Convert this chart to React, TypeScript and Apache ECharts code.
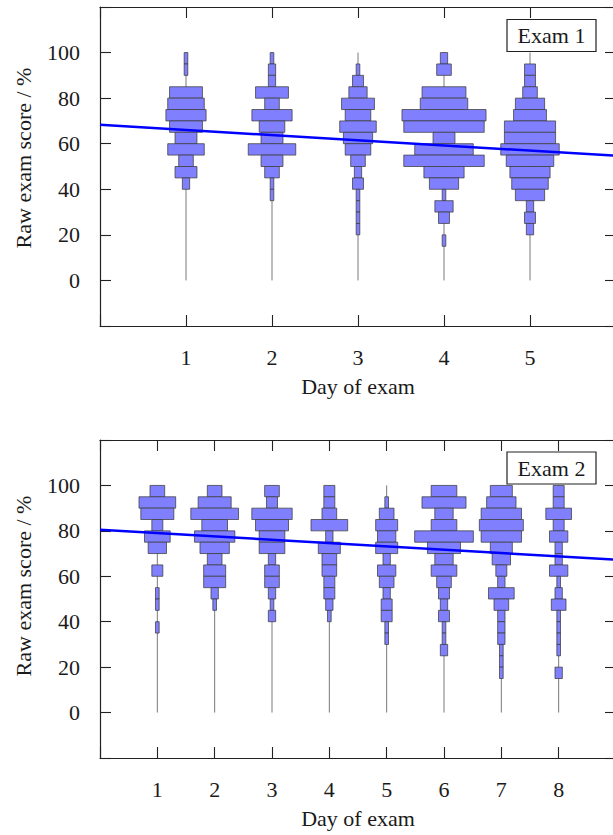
import React, { useEffect, useRef } from "react";
import * as echarts from "echarts";

// Histogram counts per day, bins of 5 % from 95–100 (index 0) downwards
const exam1Day1 = [1, 1, 0, 9, 10, 11, 9, 6, 10, 4, 6, 2];
const exam1Day2 = [1, 2, 2, 9, 4, 11, 7, 6, 13, 6, 4, 1, 1];
const exam1Day3 = [0, 1, 3, 5, 9, 7, 10, 8, 7, 4, 2, 3, 1, 1, 1, 1];
const exam1Day4 = [2, 4, 0, 12, 13, 23, 22, 6, 16, 22, 11, 8, 1, 5, 3, 0, 1];
const exam1Day5 = [0, 3, 3, 4, 8, 9, 14, 14, 16, 13, 11, 10, 8, 2, 3, 2];

const exam2Day1 = [4, 10, 9, 3, 7, 5, 0, 3, 0, 1, 1, 0, 1];
const exam2Day2 = [4, 9, 13, 7, 11, 8, 4, 6, 6, 2, 1];
const exam2Day3 = [4, 3, 11, 9, 7, 7, 2, 4, 4, 2, 1, 2];
const exam2Day4 = [3, 3, 4, 10, 2, 6, 4, 4, 3, 3, 2, 1];
const exam2Day5 = [0, 1, 4, 6, 5, 6, 2, 5, 4, 2, 3, 3, 1, 1];
const exam2Day6 = [7, 12, 5, 7, 16, 9, 5, 7, 4, 3, 2, 3, 1, 1, 2];
const exam2Day7 = [6, 8, 11, 12, 11, 6, 5, 3, 2, 7, 4, 2, 2, 2, 1, 1, 1];
const exam2Day8 = [3, 3, 7, 3, 5, 2, 2, 5, 1, 2, 4, 1, 1, 1, 1, 0, 2];

const exam1Hists = [exam1Day1, exam1Day2, exam1Day3, exam1Day4, exam1Day5];
const exam2Hists = [exam2Day1, exam2Day2, exam2Day3, exam2Day4, exam2Day5, exam2Day6, exam2Day7, exam2Day8];

// Linear fits (day, score)
const exam1Fit = [[0, 68.3], [6, 54.7]];
const exam2Fit = [[0, 80.5], [9, 67.3]];

const yTickValues = [0, 20, 40, 60, 80, 100];
const panelTitles = ["Exam 1", "Exam 2"];

const BIN_SIZE = 5;
const TOP_SCORE = 100;
const FONT = "'Liberation Serif', 'Times New Roman', serif";
const TEXT = "#1a1a1a";

function histData(hists: number[][]) {
  const out: number[][] = [];
  hists.forEach((h, d) => {
    h.forEach((c, i) => {
      if (c > 0) out.push([d + 1, TOP_SCORE - BIN_SIZE * i, c]);
    });
  });
  return out;
}

export default function App() {
  const ref = useRef<HTMLDivElement>(null);
  useEffect(() => {
    if (!ref.current) return;
    const chart = echarts.init(ref.current, null, { renderer: "svg" });

    const grids = [
      { left: 100, top: 7, width: 516, height: 319, outerBoundsMode: "none", containLabel: false },
      { left: 100, top: 440, width: 516, height: 318, outerBoundsMode: "none", containLabel: false },
    ];
    const xMax = [exam1Hists.length + 1, exam2Hists.length + 1];
    const countScale = [0.0425, 0.064];

    const axisLine = { show: true, onZero: false, lineStyle: { color: "#222", width: 1.2 } };
    const tick = { show: true, inside: true, length: 11, lineStyle: { color: "#222", width: 1.1 } };

    const xAxis: any[] = [];
    const yAxis: any[] = [];
    const series: any[] = [];

    [0, 1].forEach((p) => {
      const nDays = xMax[p] - 1;
      xAxis.push({
        type: "value", gridIndex: p, min: 0, max: xMax[p], interval: 1, position: "bottom",
        axisLine, axisTick: tick, splitLine: { show: false },
        axisLabel: {
          margin: 20, color: TEXT, fontFamily: FONT, fontSize: 22,
          formatter: (v: number) => (v >= 1 && v <= nDays ? String(v) : ""),
        },
        name: "Day of exam", nameLocation: "middle", nameGap: 49,
        nameTextStyle: { color: TEXT, fontFamily: FONT, fontSize: 22 },
      });
      xAxis.push({
        type: "value", gridIndex: p, min: 0, max: xMax[p], interval: 1, position: "top",
        axisLine, axisTick: tick, splitLine: { show: false }, axisLabel: { show: false },
      });
      yAxis.push({
        type: "value", gridIndex: p, min: -20, max: 120, interval: 20, position: "left",
        axisLine, axisTick: tick, splitLine: { show: false },
        axisLabel: {
          margin: 20, color: TEXT, fontFamily: FONT, fontSize: 22,
          formatter: (v: number) => (yTickValues.indexOf(v) >= 0 ? String(v) : ""),
        },
      });
      yAxis.push({
        type: "value", gridIndex: p, min: -20, max: 120, interval: 20, position: "right",
        axisLine, axisTick: tick, splitLine: { show: false }, axisLabel: { show: false },
      });

      const days = (p === 0 ? exam1Hists : exam2Hists).map((_, i) => [i + 1, 0, TOP_SCORE]);
      series.push({
        type: "custom", xAxisIndex: p * 2, yAxisIndex: p * 2, z: 2,
        data: days, encode: { x: 0, y: [1, 2] }, silent: true,
        renderItem: (_params: any, api: any) => {
          const d = api.value(0);
          const a = api.coord([d, api.value(1)]);
          const b = api.coord([d, api.value(2)]);
          return {
            type: "line",
            shape: { x1: a[0], y1: a[1], x2: b[0], y2: b[1] },
            style: { stroke: "#7a7a7a", lineWidth: 1 },
          };
        },
      });

      const scale = countScale[p];
      series.push({
        type: "custom", xAxisIndex: p * 2, yAxisIndex: p * 2, z: 3,
        data: histData(p === 0 ? exam1Hists : exam2Hists), encode: { x: 0, y: 1 }, silent: true,
        renderItem: (_params: any, api: any) => {
          const d = api.value(0);
          const top = api.value(1);
          const half = (api.value(2) * scale) / 2;
          const p1 = api.coord([d - half, top]);
          const p2 = api.coord([d + half, top - BIN_SIZE]);
          return {
            type: "rect",
            shape: { x: p1[0], y: p1[1], width: p2[0] - p1[0], height: p2[1] - p1[1] },
            style: { fill: "#8080ff", stroke: "rgba(60,60,60,0.75)", lineWidth: 1 },
          };
        },
      });

      series.push({
        type: "line", xAxisIndex: p * 2, yAxisIndex: p * 2, z: 5,
        data: p === 0 ? exam1Fit : exam2Fit, symbol: "none", silent: true,
        lineStyle: { color: "#0000ff", width: 2.5 },
      });
    });

    const legendBoxes = [
      { x: 507, y: 19.5, cy: 35.5 },
      { x: 507, y: 452, cy: 468 },
    ];
    const graphic: any[] = [];
    legendBoxes.forEach((b, i) => {
      graphic.push({
        type: "rect", shape: { x: b.x, y: b.y, width: 89, height: 32 }, z: 10,
        style: { fill: "#fff", stroke: "#222", lineWidth: 1.2 },
      });
      graphic.push({
        type: "text", x: b.x + 44.5, y: b.cy, z: 11,
        style: { text: panelTitles[i], fill: TEXT, font: `22px ${FONT}`, textAlign: "center", textVerticalAlign: "middle" },
      });
    });
    [158, 586].forEach((cy) => {
      graphic.push({
        type: "text", x: 23, y: cy, rotation: Math.PI / 2, z: 11,
        style: { text: "Raw exam score / %", fill: TEXT, font: `22px ${FONT}`, textAlign: "center", textVerticalAlign: "middle" },
      });
    });

    chart.setOption({
      animation: false,
      backgroundColor: "#fff",
      grid: grids,
      xAxis,
      yAxis,
      series,
      graphic,
    });
    return () => chart.dispose();
  }, []);
  return <div ref={ref} style={{ position: "absolute", left: 0, top: 0, width: 613, height: 835 }} />;
}
